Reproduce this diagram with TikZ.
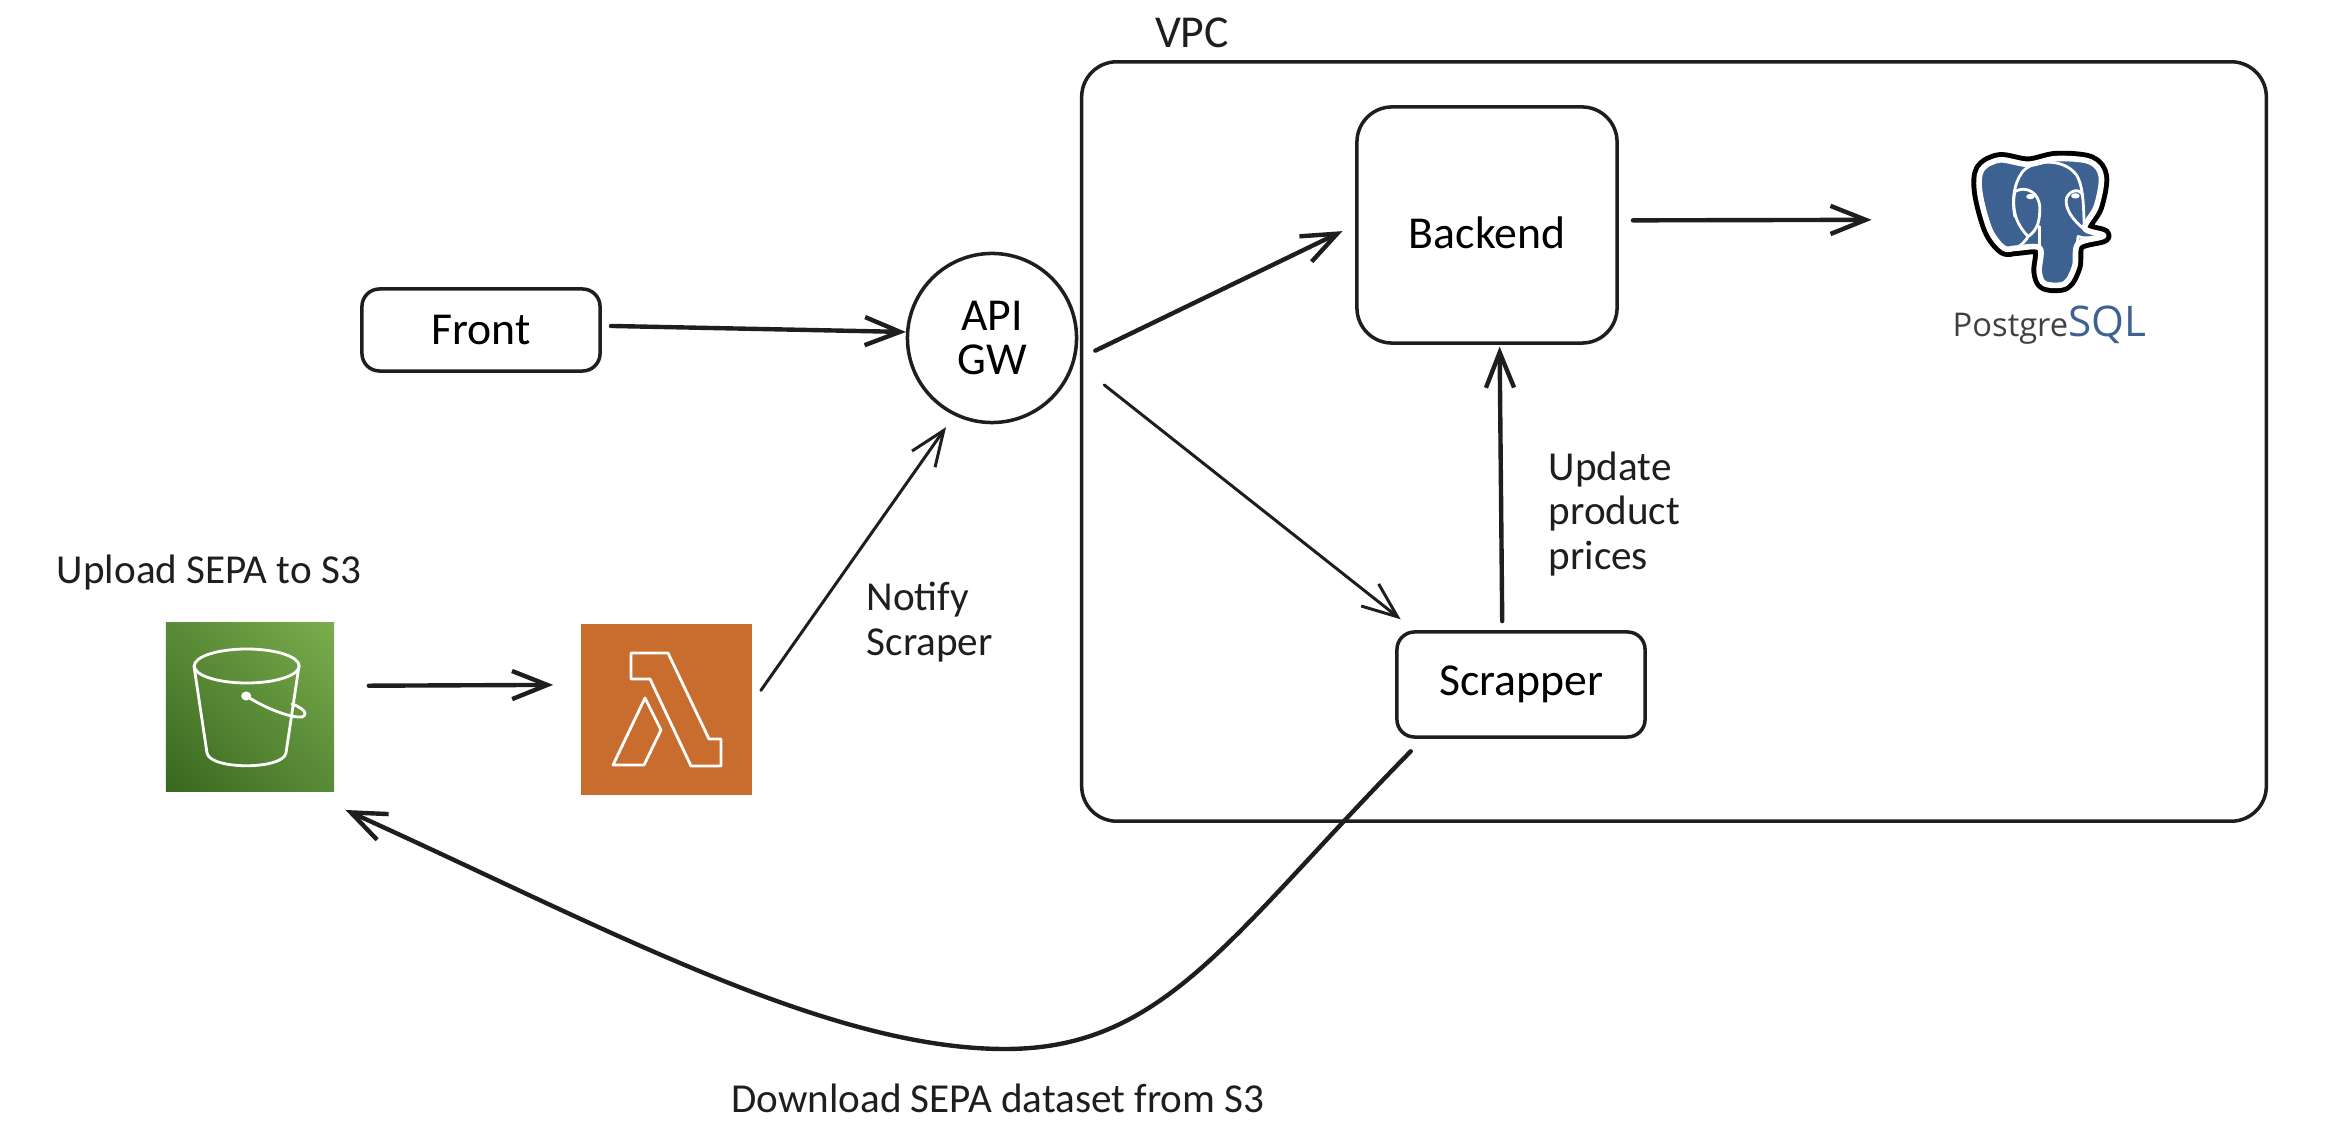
\documentclass[tikz,border=0pt]{standalone}
\usepackage{fontspec}
\setmainfont{Carlito}
\newfontfamily\logofont{Open Sans}
\usetikzlibrary{arrows.meta, shadings}
\definecolor{inkc}{HTML}{1E1E1E}
\definecolor{bucketlo}{HTML}{37681F}
\definecolor{buckethi}{HTML}{7BAD4E}
\definecolor{lambdac}{HTML}{C96D2E}
\definecolor{pgblue}{HTML}{3D6291}
\tikzset{
	sketchbox/.style={draw=inkc, line width=1pt, inner sep=0pt, align=center},
	nodetext/.style={font=\fontsize{13}{12.5}\selectfont},
	lbl/.style={inner sep=0pt, text=inkc, font=\fontsize{11.7}{12.7}\selectfont, align=left},
	conn/.style={->, draw=inkc, line width=1.25pt},
	connthin/.style={->, draw=inkc, line width=.85pt},
	iconline/.style={draw=white, line width=.8pt},
}
\begin{document}
\begin{tikzpicture}[x=0.01cm, y=-0.01cm, line join=round, line cap=round, >={Straight Barb[length=10pt,width=8pt]}]
	\useasboundingbox (0,0) rectangle (2336,1128);
	\node[sketchbox, rounded corners=10pt, minimum width=11.84cm, minimum height=7.59cm] (vpc) at (1674,441.5) {};
	\node[lbl, nodetext] (vpclabel) at (1192,33) {VPC};
	\node[sketchbox, nodetext, text height=13.5pt, rounded corners=10pt, minimum width=2.6cm, minimum height=2.36cm] (backend) at (1487,225) {Backend};
	\node[sketchbox, nodetext, rounded corners=5pt, minimum width=2.48cm, minimum height=1.05cm] (scrapper) at (1521,684.5) {Scrapper};
	\node[sketchbox, nodetext, rounded corners=5pt, minimum width=2.38cm, minimum height=.82cm] (front) at (481,330) {Front};
	\node[sketchbox, nodetext, circle, minimum size=1.69cm] (gw) at (992,338) {API\\GW};
	\node[inner sep=0pt, minimum width=1.68cm, minimum height=1.68cm, shade, shading=bilinear interpolation, lower left=bucketlo, upper right=buckethi, lower right=bucketlo!50!buckethi, upper left=bucketlo!50!buckethi] (bucket) at (250,707) {};
	\node[inner sep=0pt, minimum width=1.71cm, minimum height=1.71cm, fill=lambdac] (lambda) at (666.5,709.5) {};
	\node[inner sep=0pt, minimum width=1.95cm, minimum height=1.88cm] (pg) at (2050,246) {};

	\draw[iconline] (194,666) -- (207,753) .. controls (210,770) and (283,770) .. (286,753) -- (299,666);
	\draw[iconline] (246.7,666) ellipse (52.5 and 17);
	\fill[white] (246.2,696) ellipse (5 and 4.5);
	\draw[iconline] (246.2,696) .. controls (265,708) and (290,718) .. (302,717) .. controls (309,714) and (303,708) .. (292,704);
	\draw[iconline] (631,653) -- (668,653) -- (709,739) -- (721,739) -- (721,766) -- (691,766) -- (650,679) -- (631,679) -- cycle;
	\draw[iconline] (645,698) -- (661,730) -- (644,765) -- (613,765) -- cycle;

	\begin{scope}[shift={(1900,120)}, x=0.00333cm, y=-0.00333cm]
		\def\pgoutline{plot[smooth cycle, tension=.55] coordinates {(300,120) (385,133) (470,116) (570,125) (605,170) (590,260) (555,325) (612,348) (535,372) (525,440) (495,492) (435,492) (418,455) (420,385) (350,385) (312,385) (270,330) (240,220) (245,150)}}
		\draw[black, line width=4.4pt] \pgoutline;
		\filldraw[draw=white, line width=1.6pt, fill=pgblue] \pgoutline;
		\draw[iconline] (345,290) .. controls (335,230) and (345,190) .. (365,160) .. controls (390,120) and (490,110) .. (530,165) .. controls (555,205) and (550,280) .. (555,330);
		\draw[iconline] (345,215) .. controls (380,195) and (420,220) .. (420,265) .. controls (420,300) and (415,330) .. (385,350) .. controls (370,375) and (350,385) .. (345,385);
		\draw[iconline] (345,215) .. controls (335,260) and (345,310) .. (385,350);
		\draw[iconline] (555,330) .. controls (520,300) and (495,270) .. (500,235) .. controls (510,210) and (540,205) .. (548,225);
		\draw[iconline] (535,350) .. controls (560,360) and (590,350) .. (612,348);
		\draw[iconline] (420,320) -- (420,390);
		\draw[iconline] (530,400) -- (535,350);
		\fill[white] (392,230) ellipse (13 and 8);
		\fill[white] (527,228) ellipse (13 and 8);
	\end{scope}
	\node[inner sep=0pt, anchor=base west, font=\logofont] (pglogo) at (1952,337) {\fontsize{9.3}{10}\selectfont\color{inkc!85}Postgre\fontsize{12}{10}\selectfont\color{pgblue}SQL};

	\node[lbl] (upload) at (209,573) {Upload SEPA to S3};
	\node[lbl, anchor=west] (notify) at (866,622) {Notify\\Scraper};
	\node[lbl, anchor=west] (update) at (1548,514) {Update\\product\\prices};
	\node[lbl] (download) at (998,1098) {Download SEPA dataset from S3};

	\coordinate (dip) at (1005,1049);
	\draw[conn, shorten <=2.6pt] (front.2.4) -- (gw.176.6);
	\draw[conn, shorten <=6.3pt, shorten >=4pt] (gw.-15) -- (backend.west);
	\draw[connthin, shorten <=10.6pt, shorten >=5pt] (gw.-16) -- (scrapper.153.9);
	\draw[conn, shorten <=2.6pt, shorten >=.5pt] (scrapper.109) -- (backend.276.3);
	\draw[conn, shorten <=4pt, shorten >=22.8pt] (backend.2.6) -- (pg.165.5);
	\draw[conn, shorten <=9.7pt, shorten >=7.7pt] (bucket.14) -- (lambda.164.6);
	\draw[connthin, shorten <=4pt, shorten >=4pt] (lambda.5.7) -- (gw.-116.6);
	\draw[conn, shorten <=5pt, shorten >=12.6pt] (scrapper.-151) .. controls (1230,935) and (1165,1049) .. (dip) .. controls (825,1049) and (600,925) .. (bucket.-57.8);
\end{tikzpicture}
\end{document}
